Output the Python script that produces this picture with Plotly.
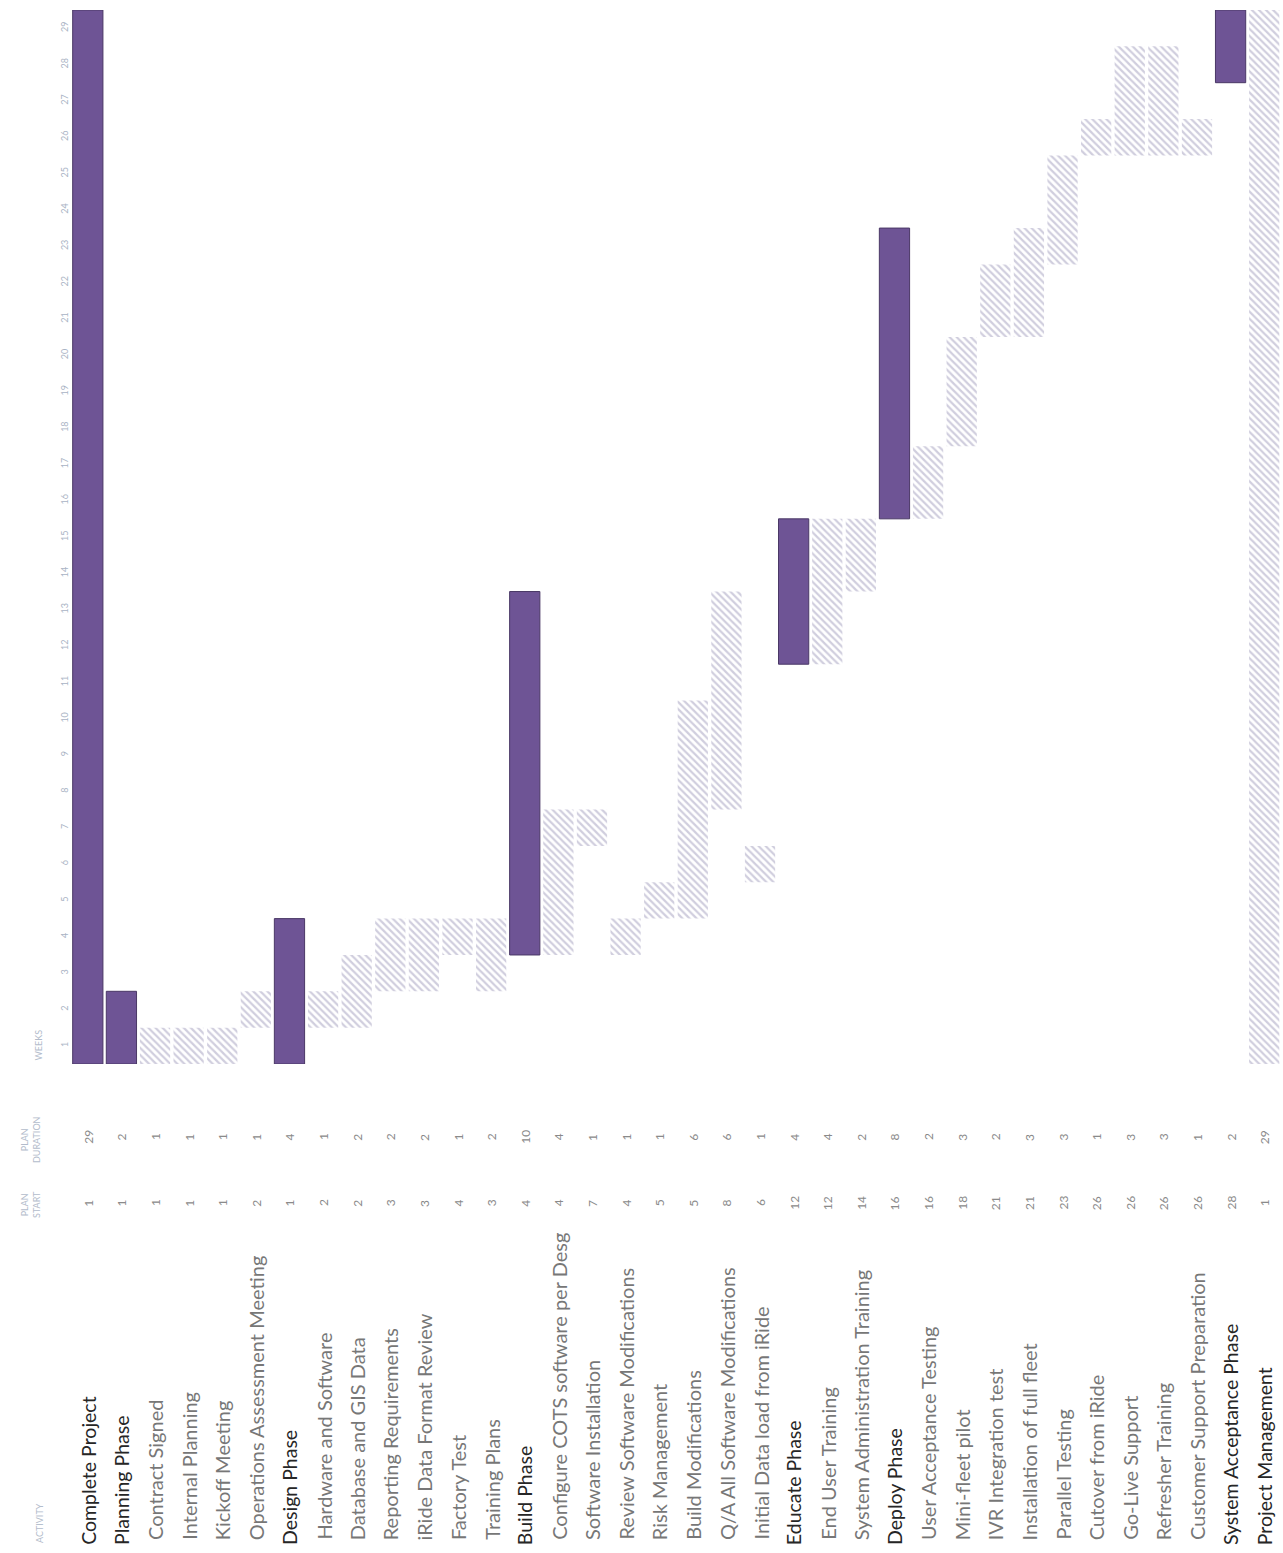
import plotly.graph_objects as go

activities = [
    "Complete Project", "Planning Phase", "Contract Signed", "Internal Planning",
    "Kickoff Meeting", "Operations Assessment Meeting", "Design Phase",
    "Hardware and Software", "Database and GIS Data", "Reporting Requirements",
    "iRide Data Format Review", "Factory Test", "Training Plans", "Build Phase",
    "Configure COTS software per Desg", "Software Installation",
    "Review Software Modifications", "Risk Management", "Build Modifications",
    "Q/A All Software Modifications", "Initial Data load from iRide",
    "Educate Phase", "End User Training", "System Administration Training",
    "Deploy Phase", "User Acceptance Testing", "Mini-fleet pilot",
    "IVR Integration test", "Installation of full fleet", "Parallel Testing",
    "Cutover from iRide", "Go-Live Support", "Refresher Training",
    "Customer Support Preparation", "System Acceptance Phase", "Project Management",
]
plan_start = [1, 1, 1, 1, 1, 2, 1, 2, 2, 3, 3, 4, 3, 4, 4, 7, 4, 5, 5, 8, 6,
              12, 12, 14, 16, 16, 18, 21, 21, 23, 26, 26, 26, 26, 28, 1]
plan_duration = [29, 2, 1, 1, 1, 1, 4, 1, 2, 2, 2, 1, 2, 10, 4, 1, 1, 1, 6, 6, 1,
                 4, 4, 2, 8, 2, 3, 2, 3, 3, 1, 3, 3, 1, 2, 29]
row_type = ["project", "phase", "task", "task", "task", "task", "phase",
            "task", "task", "task", "task", "task", "task", "phase",
            "task", "task", "task", "task", "task", "task", "task",
            "phase", "task", "task", "phase", "task", "task", "task", "task", "task",
            "task", "task", "task", "task", "phase", "support"]
weeks = list(range(1, 30))

# pixel geometry helpers
W, H = 1283, 1553
PL, PR, PT, PB = 71, 1281, 10, 1064


def py(p):
    return (PB - p) / (PB - PT)


def px(p):
    return (p - PL) / (PR - PL)


purple = "#6e5495"
purple_line = "#4a3866"
hatch = "#a29dbd"

summ_x, summ_y, summ_b = [], [], []
task_x, task_y, task_b = [], [], []
for a, s, d, t in zip(activities, plan_start, plan_duration, row_type):
    if t in ("project", "phase"):
        summ_x.append(a); summ_y.append(d); summ_b.append(s - 0.5)
    else:
        task_x.append(a); task_y.append(d); task_b.append(s - 0.5)

fig = go.Figure()
fig.add_trace(go.Bar(
    x=task_x, y=task_y, base=task_b,
    marker=dict(color=hatch, line=dict(width=0),
                pattern=dict(shape="\\", fgcolor=hatch, bgcolor="white",
                             size=5, solidity=0.45)),
    showlegend=False, hoverinfo="skip",
))
fig.add_trace(go.Bar(
    x=summ_x, y=summ_y, base=summ_b,
    marker=dict(color=purple, line=dict(color=purple_line, width=1)),
    showlegend=False, hoverinfo="skip",
))

annotations = []
font_family = "Lato, 'Open Sans', sans-serif"
for a, s, d, t in zip(activities, plan_start, plan_duration, row_type):
    strong = t != "task"
    annotations.append(dict(
        x=a, xref="x", y=py(1547 if strong else 1542), yref="paper",
        text=a, showarrow=False, textangle=-90,
        xanchor="center", yanchor="bottom",
        font=dict(family=font_family, size=19.5 if strong else 20,
                  color="#262626" if strong else "#777777"),
    ))
    annotations.append(dict(
        x=a, xref="x", y=py(1203), yref="paper",
        text=str(s), showarrow=False, textangle=-90,
        xanchor="center", yanchor="middle",
        font=dict(family=font_family, size=12, color="#8a8a8a"),
    ))
    annotations.append(dict(
        x=a, xref="x", y=py(1137), yref="paper",
        text=str(d), showarrow=False, textangle=-90,
        xanchor="center", yanchor="middle",
        font=dict(family=font_family, size=12, color="#8a8a8a"),
    ))

hdr_font = dict(family=font_family, size=9, color="#b3bccb")
annotations += [
    dict(x=px(30), xref="paper", y=py(1205), yref="paper", text="PLAN<br>START",
         showarrow=False, textangle=-90, xanchor="center", yanchor="middle", font=hdr_font),
    dict(x=px(30), xref="paper", y=py(1140), yref="paper", text="PLAN<br>DURATION",
         showarrow=False, textangle=-90, xanchor="center", yanchor="middle", font=hdr_font),
    dict(x=px(39), xref="paper", y=py(1545), yref="paper", text="ACTIVITY",
         showarrow=False, textangle=-90, xanchor="center", yanchor="bottom", font=hdr_font),
    dict(x=px(38), xref="paper", y=py(1063), yref="paper", text="WEEKS",
         showarrow=False, textangle=-90, xanchor="center", yanchor="bottom", font=hdr_font),
]

fig.update_layout(
    width=W, height=H,
    margin=dict(l=PL, r=W - PR, t=PT, b=H - PB),
    paper_bgcolor="white", plot_bgcolor="white",
    bargap=0.1, barmode="overlay",
    annotations=annotations,
    xaxis=dict(categoryorder="array", categoryarray=activities,
               showticklabels=False, showgrid=False, zeroline=False,
               showline=False, ticks=""),
    yaxis=dict(range=[0.5, 29.5], tickvals=weeks, ticktext=[str(w) for w in weeks],
               tickangle=-90, showgrid=False, zeroline=False, showline=False,
               ticks="", tickfont=dict(family=font_family, size=9, color="#a9b3c4")),
)

fig.write_html("out.html")
